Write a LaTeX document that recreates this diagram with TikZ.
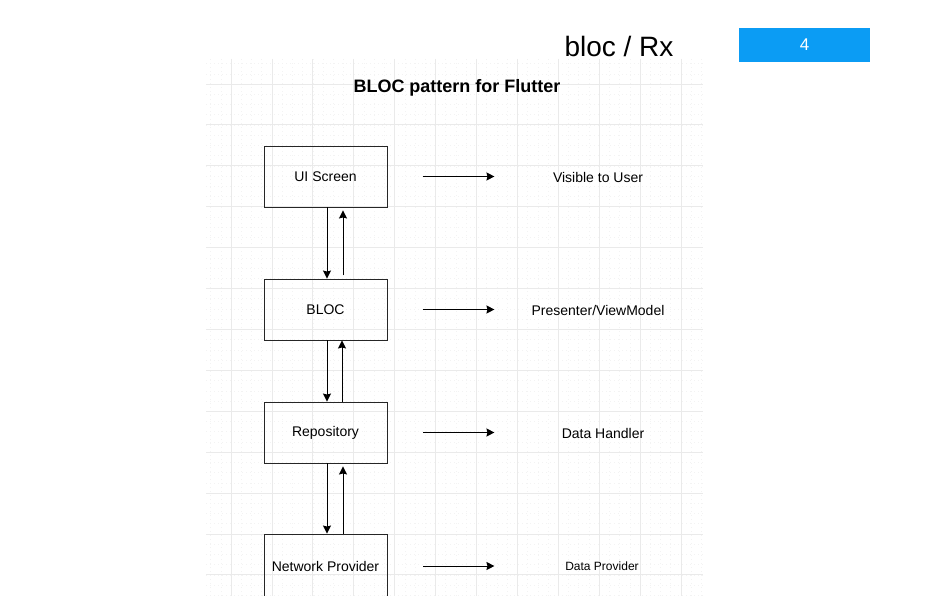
\documentclass[tikz,border=0pt]{standalone}
\usepackage{fontspec}
\setmainfont{Liberation Sans}
\usetikzlibrary{arrows.meta,positioning}
\definecolor{keyblue}{HTML}{0B9CF4}
\definecolor{gridmajor}{HTML}{EAEAEA}
\definecolor{gridminor}{HTML}{F3F3F3}
\newcommand{\fsz}[1]{\fontsize{#1}{#1}\selectfont}

\begin{document}
\begin{tikzpicture}[x=1pt,y=-1pt,>={Stealth[length=8pt,width=8pt,inset=1pt]},
  every node/.style={font=\fsz{14}},
  block/.style={draw=black!85,line width=.9pt,minimum width=123pt,minimum height=61pt,inner sep=0pt},
  lbl/.style={inner sep=0pt},
  flow/.style={->,line width=1pt}]
\useasboundingbox (0,0) rectangle (928,596);
% grid behind the diagram
\foreach \i in {-2,...,46} \draw[gridminor,line width=.5pt,dash pattern=on 1pt off 3pt] (231+10.225*\i,59) -- (231+10.225*\i,596);
\foreach \j in {-2,...,52} \draw[gridminor,line width=.5pt,dash pattern=on 1pt off 3pt] (206,84+10.225*\j) -- (703,84+10.225*\j);
\foreach \i in {0,...,11} \draw[gridmajor,line width=.8pt] (231+40.9*\i,59) -- (231+40.9*\i,596);
\foreach \j in {0,...,12} \draw[gridmajor,line width=.8pt] (206,84+40.9*\j) -- (703,84+40.9*\j);
% header
\node[lbl,anchor=base,font=\fsz{28}] (topic) at (619,57) {bloc / Rx};
\node[fill=keyblue,minimum width=131pt,minimum height=34pt,inner sep=0pt] (badge) at (804.5,45) {};
\node[lbl,anchor=base,text=white,font=\fsz{17}] (pagenum) at (804.5,51) {4};
\node[lbl,anchor=base,font=\bfseries\fsz{18}] (title) at (457,93) {BLOC pattern for Flutter};
% layers
\node[block] (ui) at (325.5,176.5) {UI Screen};
\node[block] (bloc) at (325.5,309.5) {BLOC};
\node[block] (repo) at (325.5,432.5) {Repository};
\node[block,minimum height=64pt] (net) at (325.5,566) {Network Provider};
% roles
\node[lbl] (uirole) at (598,177) {Visible to User};
\node[lbl] (blocrole) at (598,310) {Presenter/ViewModel};
\node[lbl] (reporole) at (603,433) {Data Handler};
\node[lbl,font=\fsz{12}] (netrole) at (602,566) {Data Provider};
\foreach \n in {ui,bloc,repo,net}
  \draw[flow] ([xshift=36pt]\n.east) -- ([xshift=107pt]\n.east);
% down and up between layers
\draw[flow] ([xshift=1.5pt]ui.south) -- ([xshift=1.5pt]bloc.north);
\draw[flow] ([xshift=17.5pt,yshift=4pt]bloc.north) -- ([xshift=17.5pt,yshift=-3pt]ui.south);
\draw[flow] ([xshift=1.5pt]bloc.south) -- ([xshift=1.5pt]repo.north);
\draw[flow] ([xshift=16.5pt]repo.north) -- ([xshift=16.5pt]bloc.south);
\draw[flow] ([xshift=1.5pt]repo.south) -- ([xshift=1.5pt]net.north);
\draw[flow] ([xshift=17.5pt]net.north) -- ([xshift=17.5pt,yshift=-3pt]repo.south);
\end{tikzpicture}
\end{document}
